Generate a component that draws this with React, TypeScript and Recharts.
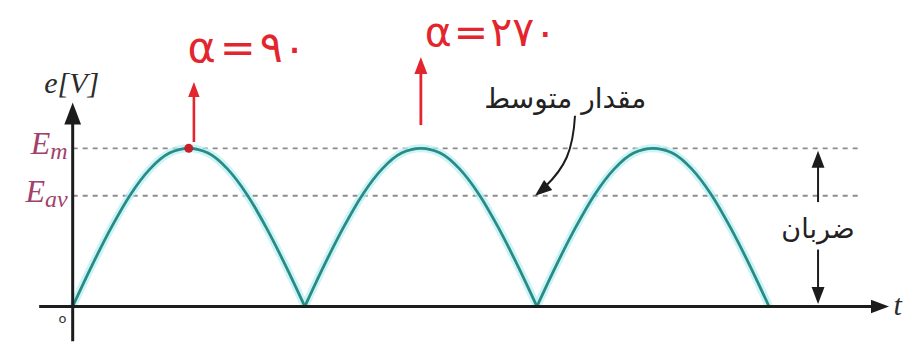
import React from "react";
import { LineChart, Line, XAxis, YAxis, ReferenceLine, ReferenceDot } from "recharts";

// one half-wave of the rectified voltage (fraction of Em), every 15 degrees
const archDegrees = [0, 15, 30, 45, 60, 75, 90, 105, 120, 135, 150, 165, 180];
const archValues = [0, 0.26, 0.5, 0.71, 0.87, 0.97, 1, 0.97, 0.87, 0.71, 0.5, 0.26, 0];
const archStarts = [0, 180, 360];
const archKeys = ["arch1", "arch2", "arch3"];

const peakLevel = 1; // Em
const averageLevel = 0.7; // Eav
const peakMarks = [90, 270];
const peakLabels = ["α=۹۰", "α=۲۷۰"];

const rows = new Map<number, Record<string, number>>();
archStarts.forEach((start, k) => {
  archDegrees.forEach((d, i) => {
    const deg = start + d;
    const row = rows.get(deg) ?? { deg };
    row[archKeys[k]] = archValues[i];
    rows.set(deg, row);
  });
});
const data = [...rows.values()].sort((a, b) => a.deg - b.deg);

const INK = "#1c1c1c";
const RED = "#e3262e";
const MAROON = "#a2416b";
const TEAL = "#2a8a86";
const SERIF = "'Liberation Serif', 'DejaVu Serif', serif";
const SANS = "'DejaVu Sans', sans-serif";

const arrowHead = (dx: number, dy: number, size: number, color: string) => (p: any) => {
  const { cx, cy } = p;
  const len = Math.hypot(dx, dy);
  const ux = dx / len;
  const uy = dy / len;
  const bx = cx - ux * size;
  const by = cy - uy * size;
  const w = size * 0.38;
  return (
    <path
      d={`M${cx},${cy} L${bx - uy * w},${by + ux * w} L${bx + uy * w},${by - ux * w} Z`}
      fill={color}
    />
  );
};

const textAt = (render: (cx: number, cy: number) => React.ReactElement) => (p: any) =>
  render(p.cx, p.cy);

export default function App() {
  return (
    <div style={{ position: "absolute", left: 0, top: 0, width: 904, height: 351, background: "#fff" }}>
      <LineChart width={904} height={351} data={data} margin={{ top: 6, right: 6, bottom: 5, left: 34 }}>
        <XAxis type="number" dataKey="deg" domain={[-30, 640]} hide />
        <YAxis type="number" domain={[-0.25, 1.9]} hide />

        {/* Em and Eav levels */}
        <ReferenceLine
          segment={[{ x: 0, y: peakLevel }, { x: 612, y: peakLevel }]}
          stroke="#8c8c8c"
          strokeWidth={1.8}
          strokeDasharray="5 5"
        />
        <ReferenceLine
          segment={[{ x: 0, y: averageLevel }, { x: 612, y: averageLevel }]}
          stroke="#8c8c8c"
          strokeWidth={1.8}
          strokeDasharray="5 5"
        />

        {/* soft halo under the waveform */}
        {archKeys.map((k) => (
          <Line
            key={`halo-${k}`}
            type="monotone"
            dataKey={k}
            stroke="#b5f0f2"
            strokeWidth={8}
            strokeOpacity={0.7}
            dot={false}
            activeDot={false}
            isAnimationActive={false}
          />
        ))}
        {archKeys.map((k) => (
          <Line
            key={k}
            type="monotone"
            dataKey={k}
            stroke={TEAL}
            strokeWidth={2.8}
            dot={false}
            activeDot={false}
            isAnimationActive={false}
          />
        ))}

        {/* axes */}
        <ReferenceLine segment={[{ x: -26, y: 0 }, { x: 622, y: 0 }]} stroke={INK} strokeWidth={3} />
        <ReferenceDot x={633} y={0} shape={arrowHead(1, 0, 18, INK)} />
        <ReferenceLine segment={[{ x: 0, y: -0.22 }, { x: 0, y: 1.2 }]} stroke={INK} strokeWidth={3} />
        <ReferenceDot x={0} y={1.29} shape={arrowHead(0, -1, 22, INK)} />

        {/* axis labels */}
        <ReferenceDot
          x={0}
          y={1.349}
          shape={textAt((cx, cy) => (
            <text x={cx - 1} y={cy} textAnchor="middle" fontFamily={SERIF} fontStyle="italic" fontSize={30} fill="#2b2b2b">
              e[V]
            </text>
          ))}
        />
        <ReferenceDot
          x={-8}
          y={-0.075}
          shape={textAt((cx, cy) => (
            <text x={cx} y={cy + 5} textAnchor="middle" fontFamily={SANS} fontSize={13} fill="#333">
              o
            </text>
          ))}
        />
        <ReferenceDot
          x={638}
          y={0}
          shape={textAt((cx, cy) => (
            <text x={cx - 2} y={cy + 9} fontFamily={SERIF} fontStyle="italic" fontSize={30} fill="#2b2b2b">
              t
            </text>
          ))}
        />
        <ReferenceDot
          x={0}
          y={peakLevel}
          shape={textAt((cx, cy) => (
            <text x={cx - 5} y={cy + 6} textAnchor="end" fontFamily={SERIF} fontStyle="italic" fontSize={32} fill={MAROON}>
              E
              <tspan fontSize={24} dy={5}>m</tspan>
            </text>
          ))}
        />
        <ReferenceDot
          x={0}
          y={averageLevel}
          shape={textAt((cx, cy) => (
            <text x={cx - 5} y={cy + 6} textAnchor="end" fontFamily={SERIF} fontStyle="italic" fontSize={32} fill={MAROON}>
              E
              <tspan fontSize={24} dy={5}>av</tspan>
            </text>
          ))}
        />

        {/* angle marks at the peaks */}
        <ReferenceDot x={peakMarks[0]} y={peakLevel} r={4.5} fill="#c8202a" stroke="none" />
        <ReferenceLine
          segment={[{ x: peakMarks[0] + 4, y: 1.04 }, { x: peakMarks[0] + 4, y: 1.35 }]}
          stroke={RED}
          strokeWidth={2.6}
        />
        <ReferenceDot x={peakMarks[0] + 4} y={1.42} shape={arrowHead(0, -1, 15, RED)} />
        <ReferenceLine
          segment={[{ x: peakMarks[1], y: 1.147 }, { x: peakMarks[1], y: 1.5 }]}
          stroke={RED}
          strokeWidth={2.8}
        />
        <ReferenceDot x={peakMarks[1]} y={1.577} shape={arrowHead(0, -1, 17, RED)} />
        <ReferenceDot
          x={135}
          y={1.546}
          shape={textAt((cx, cy) => (
            <text x={cx} y={cy} textAnchor="middle" fontFamily={SANS} fontSize={43} letterSpacing={4} fill={RED}>
              {peakLabels[0]}
            </text>
          ))}
        />
        <ReferenceDot
          x={324}
          y={1.647}
          shape={textAt((cx, cy) => (
            <text x={cx} y={cy} textAnchor="middle" fontFamily={SANS} fontSize={41} letterSpacing={2} fill={RED}>
              {peakLabels[1]}
            </text>
          ))}
        />

        {/* average value note with curved pointer */}
        <ReferenceDot
          x={382}
          y={1.254}
          shape={textAt((cx, cy) => (
            <text x={cx} y={cy} textAnchor="middle" fontFamily={SANS} fontSize={28} fill="#222" direction="rtl">
              مقدار متوسط
            </text>
          ))}
        />
        <ReferenceDot
          x={358.5}
          y={averageLevel}
          shape={(p: any) => {
            const { cx, cy } = p;
            return (
              <g>
                <path
                  d={`M${cx + 40},${cy - 80} C${cx + 38},${cy - 45} ${cx + 30},${cy - 28} ${cx + 10},${cy - 9}`}
                  fill="none"
                  stroke={INK}
                  strokeWidth={2}
                />
                {arrowHead(-22, 18, 17, INK)({ cx, cy })}
              </g>
            );
          }}
        />

        {/* ripple span between zero and Em */}
        <ReferenceLine segment={[{ x: 578, y: 0.93 }, { x: 578, y: 0.66 }]} stroke={INK} strokeWidth={2} />
        <ReferenceDot x={578} y={0.985} shape={arrowHead(0, -1, 17, INK)} />
        <ReferenceLine segment={[{ x: 578, y: 0.36 }, { x: 578, y: 0.07 }]} stroke={INK} strokeWidth={2} />
        <ReferenceDot x={578} y={0.015} shape={arrowHead(0, 1, 17, INK)} />
        <ReferenceDot
          x={578}
          y={0.43}
          shape={textAt((cx, cy) => (
            <text x={cx} y={cy} textAnchor="middle" fontFamily={SANS} fontSize={27} fill="#222" direction="rtl">
              ضربان
            </text>
          ))}
        />
      </LineChart>
    </div>
  );
}
